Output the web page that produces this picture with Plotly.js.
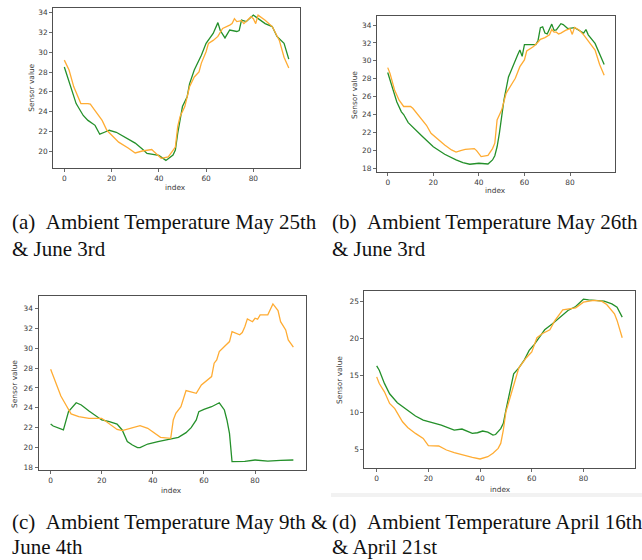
<!DOCTYPE html>
<html>
<head>
<meta charset="utf-8">
<script src="https://cdn.plot.ly/plotly-3.0.1.min.js"></script>
<style>html,body{margin:0;padding:0;background:#fff;}#chart{width:642px;height:560px;}</style>
</head>
<body>
<div id="chart"></div>
<script>
// ---- Data ----
var tickVals = [0, 20, 40, 60, 80];

// (a) May 25th (green) & June 3rd (orange)
var aGreenX = [0,5,8,10,13,15,17,19,22,25,30,33,35,40,43,46,47,48,50,52,53,55,58,60,63,65,66,68,70,73,74,75,77,80,83,85,88,90,93,95];
var aGreenY = [28.5,24.8,23.6,23.1,22.6,21.7,21.9,22.1,21.9,21.5,20.8,20.2,19.76,19.56,19.05,19.6,20.1,21.8,24.5,25.5,26.8,28.2,29.7,30.9,31.9,33.0,32.2,31.45,32.25,32.1,32.2,33.25,33.1,33.76,33.25,32.9,32.6,31.6,30.9,29.3];
var aOrangeX = [0,2,4,7,10,11,13,16,18,20,23,27,30,33,35,37,38,41,44,46,47,48,49,51,53,55,57,58,60,61,63,65,67,70,71,72,73,75,76,79,80,81,82,85,88,91,93,95];
var aOrangeY = [29.2,28.2,26.5,24.8,24.8,24.75,24.1,23.1,22.1,21.6,20.9,20.3,19.8,20.0,20.1,20.15,19.93,19.26,19.4,20.0,20.4,22.5,23.5,24.5,26.5,27.5,28.0,28.9,30.05,30.9,31.2,31.6,32.4,32.75,32.9,33.4,33.1,33.2,32.9,33.6,33.4,32.9,33.76,33.25,32.6,31.2,29.5,28.4];

// (b) May 26th (green) & June 3rd (orange)
var bGreenX = [0,2,4,6,7,9,12,15,20,25,30,33,36,38,40,44,46,47,48,49,51,53,55,57,58,59,60,61,63,65,66,67,68,69,70,72,73,74,76,77,79,82,85,86,87,88,91,93,95];
var bGreenY = [28.7,27.1,25.4,24.3,24.0,23.1,22.3,21.6,20.4,19.56,18.93,18.63,18.45,18.48,18.56,18.48,18.93,19.4,20.4,21.9,25.6,28.2,29.5,30.65,31.2,30.5,31.8,31.8,31.75,31.8,32.3,33.7,33.8,33.1,33.0,34.1,33.4,33.45,34.15,34.05,33.6,33.7,33.25,33.1,33.5,32.9,31.95,30.8,29.6];
var bOrangeX = [0,1,3,5,7,10,11,14,17,19,22,25,28,30,32,34,38,39,41,44,46,47,48,50,52,54,56,58,60,61,64,66,67,69,71,72,73,74,75,76,78,80,81,82,84,86,89,91,93,95];
var bOrangeY = [29.24,28.6,26.75,25.6,24.9,24.9,24.7,23.8,22.8,21.9,21.2,20.6,20.05,19.8,19.97,20.1,20.2,19.97,19.3,19.45,20.2,20.8,23.4,24.5,26.4,27.3,28.05,29.35,30.1,31.1,31.6,32.1,32.4,32.6,32.9,33.5,33.2,33.2,33.0,33.1,33.4,33.6,32.95,33.74,33.45,32.9,31.95,31.2,29.6,28.4];

// (c) May 9th (green) & June 4th (orange)
var cGreenX = [0,1,5,6,7,10,12,15,20,23,26,28,29,30,32,34,35,38,42,45,50,53,55,57,58,60,63,66,68,69,70,71,73,76,80,85,90,95];
var cGreenY = [22.35,22.15,21.75,22.76,23.6,24.5,24.28,23.67,22.76,22.6,22.35,21.75,21.24,20.57,20.23,19.96,19.96,20.33,20.57,20.73,21.0,21.48,21.98,22.76,23.6,23.84,24.1,24.5,23.77,22.76,21.4,18.54,18.54,18.57,18.71,18.6,18.67,18.71];
var cOrangeX = [0,2,4,6,8,11,15,20,23,26,28,32,35,38,40,43,47,48,49,51,53,55,57,59,61,63,64,65,66,68,70,71,72,74,75,76,77,78,79,80,81,82,84,85,87,89,90,92,93,95];
var cOrangeY = [27.9,26.64,25.19,24.28,23.37,23.1,22.93,22.93,22.35,21.8,21.68,21.98,22.19,21.92,21.58,21.0,20.9,22.76,23.43,24.1,25.73,25.6,25.46,26.3,26.74,27.15,28.5,28.84,29.68,30.19,30.69,31.7,31.6,31.37,31.6,32.2,32.99,32.8,32.7,33.05,32.95,33.39,33.39,33.39,34.5,33.83,32.7,31.87,30.86,30.12];

// (d) April 16th (green) & April 21st (orange)
var dGreenX = [0,1,3,5,8,12,15,18,21,25,30,33,37,39,41,43,45,46,48,49,50,52,53,55,57,59,61,63,65,68,72,74,77,80,82,86,88,91,93,95];
var dGreenY = [16.26,15.67,13.9,12.5,11.3,10.2,9.5,8.95,8.7,8.27,7.6,7.74,7.15,7.24,7.47,7.33,6.93,7.0,7.8,8.5,10.3,13.4,15.2,16.0,17.0,18.36,19.17,20.16,21.14,21.95,23.07,23.74,24.28,25.27,25.18,25.0,25.0,24.64,24.2,22.85];
var dOrangeX = [0,1,3,5,7,8,10,12,15,18,20,24,27,30,34,37,40,43,45,47,48,49,50,52,53,55,58,60,62,64,67,69,72,74,77,80,84,87,89,92,93,95];
var dOrangeY = [14.78,13.88,12.76,11.2,10.5,9.93,8.72,7.96,7.15,6.48,5.5,5.45,4.91,4.55,4.15,3.92,3.7,4.0,4.46,5.13,5.8,7.6,10.07,12.5,13.4,16.0,17.4,18.14,20.07,20.6,21.14,22.4,23.83,23.97,24.1,24.87,25.1,25.0,24.55,23.3,22.4,20.07];

var captionA = ["(a)\u2002Ambient Temperature May 25th", "& June 3rd"];
var captionB = ["(b)\u2002Ambient Temperature May 26th", "& June 3rd"];
var captionC = ["(c)\u2002Ambient Temperature May 9th &", "June 4th"];
var captionD = ["(d)\u2002Ambient Temperature April 16th", "& April 21st"];

// ---- Styling ----
var GREEN = '#24902a';
var ORANGE = '#ffac33';
var W = 642, H = 560;
function px(x){return x / W;}
function py(y){return 1 - y / H;}

function line(x, y, color, xa, ya){
  return {x: x, y: y, type: 'scatter', mode: 'lines', xaxis: xa, yaxis: ya,
          line: {color: color, width: 1.3}, hoverinfo: 'skip', showlegend: false};
}

var data = [
  line(aGreenX, aGreenY, GREEN, 'x', 'y'), line(aOrangeX, aOrangeY, ORANGE, 'x', 'y'),
  line(bGreenX, bGreenY, GREEN, 'x2', 'y2'), line(bOrangeX, bOrangeY, ORANGE, 'x2', 'y2'),
  line(cGreenX, cGreenY, GREEN, 'x3', 'y3'), line(cOrangeX, cOrangeY, ORANGE, 'x3', 'y3'),
  line(dGreenX, dGreenY, GREEN, 'x4', 'y4'), line(dOrangeX, dOrangeY, ORANGE, 'x4', 'y4')
];

var tickFont = {family: 'DejaVu Sans', size: 7.4, color: '#3a3a3a'};
function xax(dom, anchor){
  return {domain: dom, anchor: anchor, range: [-4.75, 99.75], tickvals: tickVals, ticks: 'outside', ticklen: 3,
          tickwidth: 0.8, tickcolor: '#444', showgrid: false, zeroline: false, showline: true, mirror: true,
          linecolor: '#505050', linewidth: 1, tickfont: tickFont, fixedrange: true};
}
function yax(dom, anchor, range, dtick){
  return {domain: dom, anchor: anchor, range: range, dtick: dtick, tick0: 0, ticks: 'outside', ticklen: 3,
          tickwidth: 0.8, tickcolor: '#444', showgrid: false, zeroline: false, showline: true, mirror: true,
          linecolor: '#505050', linewidth: 1, tickfont: tickFont, fixedrange: true};
}

var labelFont = {family: 'DejaVu Sans', size: 7.4, color: '#3a3a3a'};
var capFont = {family: 'Liberation Serif', size: 21, color: '#111'};

function ann(text, x, y, font, extra){
  var a = {text: text, x: px(x), y: py(y), xref: 'paper', yref: 'paper', showarrow: false,
           font: font, xanchor: 'center', yanchor: 'middle'};
  if (extra) for (var k in extra) a[k] = extra[k];
  return a;
}

var annotations = [
  ann('index', 175.7, 187.7, labelFont), ann('index', 495.7, 190.7, labelFont),
  ann('index', 171.7, 490.7, labelFont), ann('index', 500, 489, labelFont),
  ann('Sensor value', 30.7, 88, labelFont, {textangle: -90}),
  ann('Sensor value', 354, 95, labelFont, {textangle: -90}),
  ann('Sensor value', 14, 384, labelFont, {textangle: -90}),
  ann('Sensor value', 339, 380, labelFont, {textangle: -90}),
  ann(captionA[0], 10, 222, capFont, {xanchor: 'left'}), ann(captionA[1], 10, 249, capFont, {xanchor: 'left'}),
  ann(captionB[0], 330, 222, capFont, {xanchor: 'left'}), ann(captionB[1], 330, 249, capFont, {xanchor: 'left'}),
  ann(captionC[0], 10, 522, capFont, {xanchor: 'left'}), ann(captionC[1], 10, 547, capFont, {xanchor: 'left'}),
  ann(captionD[0], 330, 522, capFont, {xanchor: 'left'}), ann(captionD[1], 330, 547, capFont, {xanchor: 'left'})
];

var layout = {
  width: W, height: H, margin: {l: 0, r: 0, t: 0, b: 0}, paper_bgcolor: '#fff', plot_bgcolor: '#fff',
  showlegend: false,
  xaxis:  xax([px(53.1), px(300)], 'y'),
  yaxis:  yax([py(168), py(8)], 'x', [18.28, 34.48], 2),
  xaxis2: xax([px(376.9), px(615)], 'y2'),
  yaxis2: yax([py(172.3), py(15.7)], 'x2', [17.55, 35.04], 2),
  xaxis3: xax([px(38.5), px(305.5)], 'y3'),
  yaxis3: yax([py(470), py(296)], 'x3', [17.7, 35.3], 2),
  xaxis4: xax([px(364.4), px(634.5)], 'y4'),
  yaxis4: yax([py(468.3), py(290.5)], 'x4', [2.44, 26.44], 5),
  annotations: annotations,
  shapes: [{type: 'rect', xref: 'paper', yref: 'paper', x0: px(331), x1: 1, y0: py(497), y1: py(493),
            fillcolor: '#f2f2f2', line: {width: 0}, layer: 'below'}]
};

Plotly.newPlot('chart', data, layout, {staticPlot: true, displayModeBar: false});
</script>
</body>
</html>
